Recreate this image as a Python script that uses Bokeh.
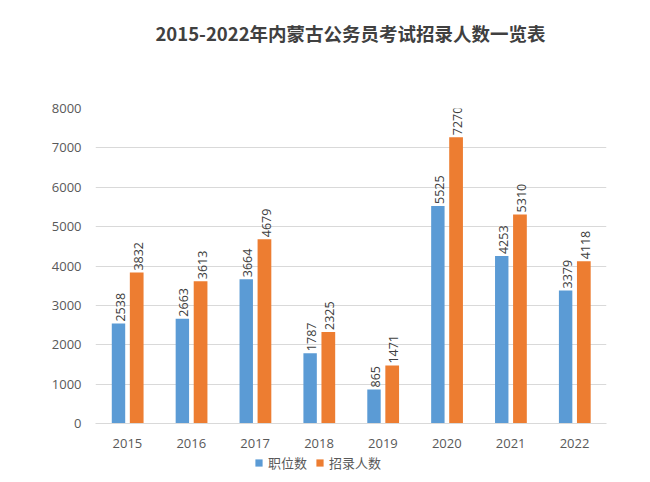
from bokeh.plotting import figure
from bokeh.models import ColumnDataSource, Legend, LegendItem, FactorRange
from bokeh.layouts import column
from bokeh.transform import dodge
from bokeh.core.properties import value
from bokeh.embed import file_html
from bokeh.resources import INLINE
import math

years = ["2015", "2016", "2017", "2018", "2019", "2020", "2021", "2022"]
positions = [2538, 2663, 3664, 1787, 865, 5525, 4253, 3379]
recruits = [3832, 3613, 4679, 2325, 1471, 7270, 5310, 4118]
y_ticks = [0, 1000, 2000, 3000, 4000, 5000, 6000, 7000, 8000]
series_names = ["职位数", "招录人数"]
title_text = "2015-2022年内蒙古公务员考试招录人数一览表"

blue = "#5B9BD5"
orange = "#ED7D31"
W = 650
LEFT, RIGHT = 95, 44


def blank(h):
    # frame aligned with the main chart's frame; x data units == page pixels
    f = figure(width=W, height=h, x_range=(LEFT, W - RIGHT), y_range=(0, h),
               x_axis_type=None, y_axis_type=None,
               output_backend="svg", toolbar_location=None,
               min_border_left=LEFT, min_border_right=RIGHT,
               min_border_top=0, min_border_bottom=0)
    f.grid.visible = False
    f.outline_line_color = None
    f.background_fill_color = "white"
    f.border_fill_color = "white"
    return f


# ---- title strip ----
tf = blank(80)
tf.text(x=[350], y=[80 - 32], text=[title_text], text_align="center", text_baseline="middle",
        text_font=value("Noto Sans CJK SC"), text_font_size="18.5px", text_font_style="bold",
        text_color="#404040")

# ---- main chart ----
src = ColumnDataSource(dict(
    year=years,
    pos=positions,
    rec=recruits,
    pos_lbl=[str(v) for v in positions],
    rec_lbl=[str(v) for v in recruits],
))

p = figure(width=W, height=370, x_range=FactorRange(*years), y_range=(0, 8000),
           output_backend="svg", toolbar_location=None,
           min_border_left=LEFT, min_border_right=RIGHT, min_border_top=28, min_border_bottom=27)
p.outline_line_color = None
p.background_fill_color = "white"
p.border_fill_color = "white"

p.vbar(x=dodge("year", -0.14, range=p.x_range), top="pos", width=0.21, source=src,
       fill_color=blue, line_color=None)
p.vbar(x=dodge("year", 0.145, range=p.x_range), top="rec", width=0.215, source=src,
       fill_color=orange, line_color=None)

lbl_kw = dict(angle=math.pi / 2, text_align="left", text_baseline="middle",
              text_font=value("Open Sans"), text_font_size="12.5px", text_color="#404040",
              y_offset=-2, source=src)
p.text(x=dodge("year", -0.115, range=p.x_range), y="pos", text="pos_lbl", **lbl_kw)
p.text(x=dodge("year", 0.17, range=p.x_range), y="rec", text="rec_lbl", **lbl_kw)

p.ygrid.grid_line_color = "#D9D9D9"
p.xgrid.grid_line_color = None
p.yaxis.ticker = y_ticks
p.yaxis.axis_line_color = None
p.yaxis.major_tick_line_color = None
p.yaxis.minor_tick_line_color = None
p.yaxis.major_label_text_font = "Open Sans"
p.yaxis.major_label_text_font_size = "13px"
p.yaxis.major_label_text_color = "#595959"
p.yaxis.major_label_standoff = 8

p.xaxis.axis_line_color = "#D9D9D9"
p.xaxis.major_tick_line_color = None
p.xaxis.minor_tick_line_color = None
p.xaxis.major_label_text_font = "Open Sans"
p.xaxis.major_label_text_font_size = "13px"
p.xaxis.major_label_text_color = "#595959"
p.xaxis.major_label_standoff = 9

# ---- legend strip ----
lf = blank(32)
g1 = lf.rect(x=[-100], y=[-100], width=1, height=1, fill_color=blue, line_color=None)
g2 = lf.rect(x=[-100], y=[-100], width=1, height=1, fill_color=orange, line_color=None)
legend = Legend(items=[LegendItem(label=series_names[0], renderers=[g1]),
                       LegendItem(label=series_names[1], renderers=[g2])],
                orientation="horizontal", location=(159, 10),
                label_text_font="Noto Sans CJK SC", label_text_font_size="13px",
                label_text_color="#595959", glyph_width=9, glyph_height=9,
                label_height=20, label_standoff=5, spacing=8, padding=0, margin=0,
                border_line_color=None, background_fill_alpha=0)
lf.add_layout(legend)

layout = column(tf, p, lf, spacing=0)
open("out.html", "w").write(file_html(layout, INLINE))
